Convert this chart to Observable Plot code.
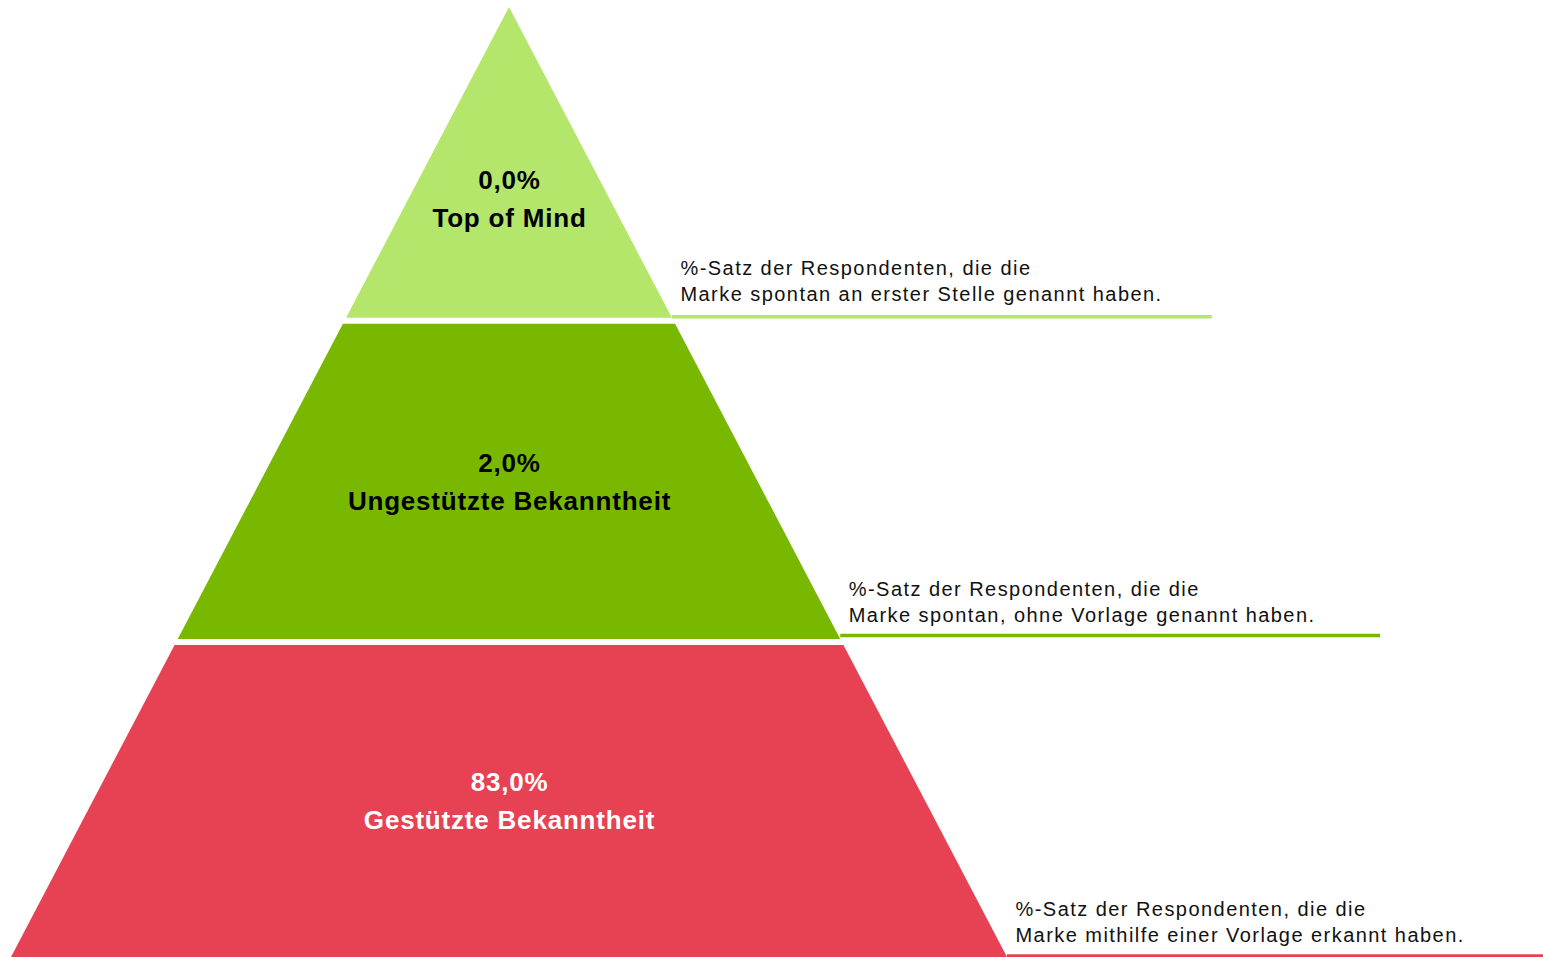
<!DOCTYPE html>
<html>
<head>
<meta charset="utf-8">
<script src="https://cdn.jsdelivr.net/npm/d3@7"></script>
<script src="https://cdn.jsdelivr.net/npm/@observablehq/plot@0.6"></script>
<style>
  html, body { margin: 0; padding: 0; background: #fff; }
  #chart svg { display: block; }
</style>
</head>
<body>
<div id="chart"></div>
<script>
// --- data ---
const levels = ["Top of Mind", "Ungestützte Bekanntheit", "Gestützte Bekanntheit"];
const values = [0.0, 2.0, 83.0];
const descriptions = [
  "%-Satz der Respondenten, die die\nMarke spontan an erster Stelle genannt haben.",
  "%-Satz der Respondenten, die die\nMarke spontan, ohne Vorlage genannt haben.",
  "%-Satz der Respondenten, die die\nMarke mithilfe einer Vorlage erkannt haben."
];
const colors = ["#b3e66a", "#79b800", "#e64253"];
const labelColors = ["#000000", "#000000", "#ffffff"];

// --- geometry in pyramid units (apex at y=0, base at y=3, half-width 1 at base) ---
const n = levels.length;
const boundaries = [0, 0.991, 2.005, n];
const gap = 0.019;
const halfW = y => y / n;
const fmt = v => v.toFixed(1).replace(".", ",") + "%";

const bands = levels.map((name, i) => {
  const top = i === 0 ? 0 : boundaries[i] + gap / 2;
  const bot = i === n - 1 ? n : boundaries[i + 1] - gap / 2;
  return {i, name, top, bot};
});
const areaData = bands.flatMap(b => [
  {level: b.name, y: b.top, x1: -halfW(b.top), x2: halfW(b.top)},
  {level: b.name, y: b.bot, x1: -halfW(b.bot), x2: halfW(b.bot)}
]);
const lineLen = 1.084;
const ruleData = bands.map(b => ({
  level: b.name,
  y: b.bot - (b.i === 1 ? 0.012 : 0.005),
  ty: b.bot - (b.i === 0 ? 0.011 : b.i === 1 ? 0.012 : 0.005),
  x1: halfW(b.bot),
  x2: halfW(b.bot) + lineLen,
  text: descriptions[b.i]
}));
const labelData = bands.map(b => ({
  level: b.name,
  text: fmt(values[b.i]) + "\n" + b.name,
  y: b.i === 0 ? 0.594 : (b.top + b.bot) / 2 - 0.011,
  color: labelColors[b.i]
}));

const chart = Plot.plot({
  width: 1543,
  height: 957,
  marginTop: 7,
  marginBottom: 0,
  marginLeft: 0,
  marginRight: 0,
  x: {domain: [-509 / 498, 1034 / 498], axis: null},
  y: {domain: [0, n], reverse: true, axis: null},
  color: {domain: levels, range: colors},
  marks: [
    Plot.areaX(areaData, {x1: "x1", x2: "x2", y: "y", z: "level", fill: "level"}),
    Plot.ruleY(ruleData, {y: "y", x1: "x1", x2: "x2", stroke: "level", strokeWidth: 3.5}),
    Plot.text(ruleData, {
      x: "x1", y: "ty", text: "text",
      textAnchor: "start", lineAnchor: "bottom", lineHeight: 1.28,
      dx: 8, dy: -14, fontSize: 20, fill: "#111",
      fontFamily: "Liberation Sans, Arial, sans-serif"
    }),
    Plot.text(labelData, {
      x: 0, y: "y", text: "text", fill: "color",
      lineAnchor: "middle", lineHeight: 1.46,
      fontSize: 26, fontWeight: "bold",
      fontFamily: "Liberation Sans, Arial, sans-serif"
    })
  ]
});
const textGroups = chart.querySelectorAll('g[aria-label="text"]');
if (textGroups[0]) textGroups[0].style.letterSpacing = "1.45px";
if (textGroups[1]) textGroups[1].style.letterSpacing = "0.8px";
document.getElementById("chart").appendChild(chart);
</script>
</body>
</html>
